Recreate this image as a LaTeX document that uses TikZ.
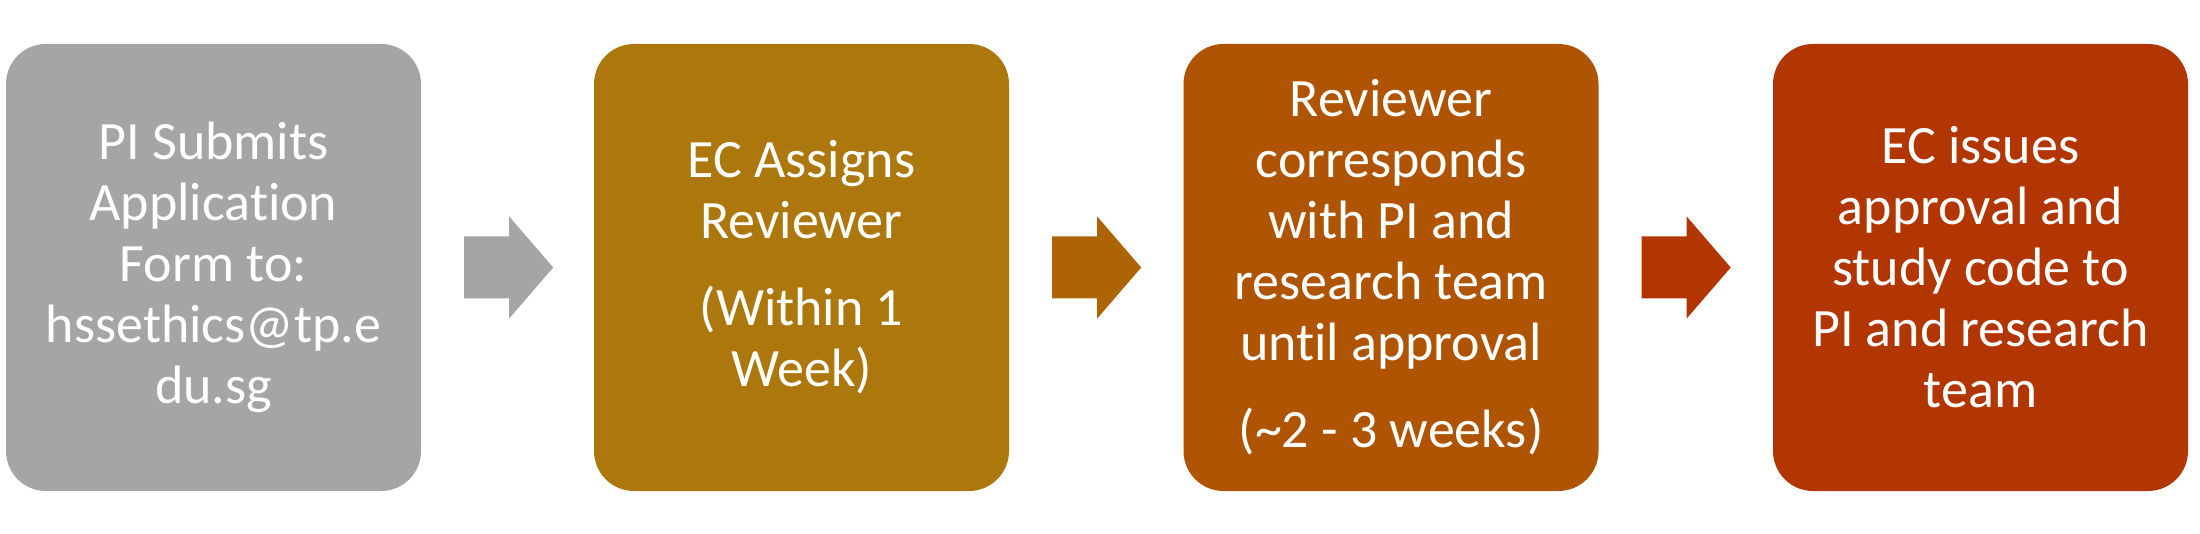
\documentclass[tikz,border=0pt]{standalone}
\usepackage{fontspec}
\setmainfont{Carlito}[Ligatures=NoCommon]
\usetikzlibrary{calc}
\definecolor{cgray}{RGB}{165,165,165}
\definecolor{cgold}{RGB}{172,120,14}
\definecolor{carrow2}{RGB}{173,100,4}
\definecolor{corange}{RGB}{174,84,2}
\definecolor{cred}{RGB}{178,54,2}
\tikzset{
  stepbox/.style={rounded corners=40pt, minimum width=415pt, minimum height=447pt,
    inner sep=0pt, align=center, text=white, font=\fontsize{54}{61}\selectfont},
  blockarrow/.style={draw=none}
}
\begin{document}
\begin{tikzpicture}[x=1pt,y=1pt]
\useasboundingbox (0,0) rectangle (2200,-534);
\node[stepbox, fill=cgray] (b1) at (213.5,-267.5) {PI Submits\\Application\\Form to:\\hssethics@tp.e\\du.sg};
\node[stepbox, fill=cgold] (b2) at (801.5,-267.5) {EC Assigns\\Reviewer\\[26pt](Within 1\\Week)};
\node[stepbox, fill=corange] (b3) at (1391,-267.5) {Reviewer\\corresponds\\with PI and\\research team\\until approval\\[26pt](\textasciitilde 2 - 3 weeks)};
\node[stepbox, fill=cred] (b4) at (1980.5,-267.5) {EC issues\\approval and\\study code to\\PI and research\\team};
\foreach \src/\col in {b1/cgray, b2/carrow2, b3/cred}{
  \begin{scope}[shift={(\src.east)}]
    \fill[blockarrow, fill=\col] (43,31) -- (88,31) -- (88,51) -- (132,0) -- (88,-51) -- (88,-31) -- (43,-31) -- cycle;
  \end{scope}
}
\end{tikzpicture}
\end{document}
